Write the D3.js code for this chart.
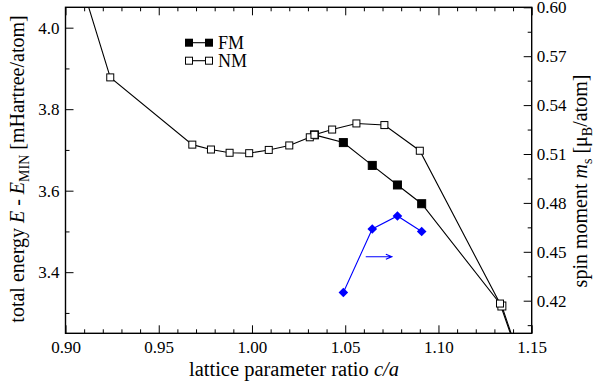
<!DOCTYPE html>
<html>
<head>
<meta charset="utf-8">
<script src="https://cdn.jsdelivr.net/npm/d3@7"></script>
<style>
  body { margin: 0; background: #fff; }
  svg { font-family: "Liberation Serif", "Times New Roman", serif; }
  .axis text { font-family: "Liberation Serif", "Times New Roman", serif; font-size: 17px; fill: #000; }
  .axis line { stroke: #000; stroke-width: 1; }
</style>
</head>
<body>
<script>
(function(){
// lattice parameter ratio c/a and total energy [mHartree/atom]
var nmRatio  = [0.900, 0.924, 0.968, 0.978, 0.988, 0.9985, 1.009, 1.020, 1.031, 1.0335, 1.043, 1.056, 1.071, 1.090, 1.133, 1.150];
var nmEnergy = [4.235, 3.878, 3.713, 3.701, 3.693, 3.692, 3.700, 3.711, 3.731, 3.737, 3.750, 3.765, 3.761, 3.698, 3.323, 3.100];
var fmRatio  = [1.0335, 1.049, 1.0645, 1.078, 1.091, 1.134, 1.150];
var fmEnergy = [3.737, 3.718, 3.662, 3.614, 3.568, 3.317, 3.100];
// spin moment of the FM state [muB/atom]
var momentRatio = [1.049, 1.0645, 1.078, 1.091];
var momentValue = [0.425, 0.464, 0.472, 0.4625];

var xTicks = [0.90, 0.95, 1.00, 1.05, 1.10, 1.15];
var eTicks = [3.4, 3.6, 3.8, 4.0];
var mTicks = [0.42, 0.45, 0.48, 0.51, 0.54, 0.57, 0.60];

var width = 595, height = 381;
var left = 65.5, right = 531.7, top = 7.3, bottom = 333.3;

var svg = d3.select("body").append("svg")
    .attr("width", width)
    .attr("height", height);

var x = d3.scaleLinear().domain([0.90, 1.15]).range([left, right]);
var yE = d3.scaleLinear().domain([3.25, 4.05]).range([bottom, top]);
var yM = d3.scaleLinear().domain([0.40, 0.60]).range([bottom, top]);

var xMinor = d3.range(0.90, 1.1501, 0.01).map(function(d) { return +d.toFixed(2); })
    .filter(function(d) { return xTicks.indexOf(d) < 0; });
var eMinor = [3.3, 3.5, 3.7, 3.9];
var mMinor = d3.range(0.405, 0.6, 0.03).map(function(d) { return +d.toFixed(3); });

function addAxis(axisFn, scale, ticks, minor, tx, ty, fmt, labels, pad) {
  var g = svg.append("g").attr("class", "axis")
      .attr("transform", "translate(" + tx + "," + ty + ")");
  g.call(axisFn(scale).tickValues(minor).tickSizeInner(-4).tickSizeOuter(0).tickFormat(""));
  g.select(".domain").remove();
  var g2 = svg.append("g").attr("class", "axis")
      .attr("transform", "translate(" + tx + "," + ty + ")");
  g2.call(axisFn(scale).tickValues(ticks).tickSizeInner(-8).tickSizeOuter(0)
      .tickPadding(pad).tickFormat(labels ? d3.format(fmt) : ""));
  g2.select(".domain").remove();
  g2.selectAll("text").style("font-family", "'Liberation Serif', 'Times New Roman', serif");
  return g2;
}

addAxis(d3.axisBottom, x, xTicks, xMinor, 0, bottom, ".2f", true, 8);
addAxis(d3.axisTop, x, xTicks, xMinor, 0, top, ".2f", false, 0);
addAxis(d3.axisLeft, yE, eTicks, eMinor, left, 0, ".1f", true, 6);
addAxis(d3.axisRight, yM, mTicks, mMinor, right, 0, ".2f", true, 6).selectAll("text").attr("dx", "-1");

svg.append("rect")
    .attr("x", left).attr("y", top)
    .attr("width", right - left).attr("height", bottom - top)
    .attr("fill", "none").attr("stroke", "#000").attr("stroke-width", 1.4);

svg.append("clipPath").attr("id", "plotclip")
  .append("rect").attr("x", left).attr("y", top)
    .attr("width", right - left).attr("height", bottom - top);

var plot = svg.append("g").attr("clip-path", "url(#plotclip)");

var nm = nmRatio.map(function(d, i) { return [d, nmEnergy[i]]; });
var fm = fmRatio.map(function(d, i) { return [d, fmEnergy[i]]; });
var mom = momentRatio.map(function(d, i) { return [d, momentValue[i]]; });

var lineE = d3.line().x(function(d) { return x(d[0]); }).y(function(d) { return yE(d[1]); });
var lineM = d3.line().x(function(d) { return x(d[0]); }).y(function(d) { return yM(d[1]); });

plot.append("path").datum(fm).attr("d", lineE)
    .attr("fill", "none").attr("stroke", "#000").attr("stroke-width", 1.1);
plot.append("path").datum(nm).attr("d", lineE)
    .attr("fill", "none").attr("stroke", "#000").attr("stroke-width", 1.1);

// FM points with a moment are filled, the rest collapse to NM
plot.selectAll(".fm").data(fm).enter().append("rect")
    .attr("class", "fm")
    .attr("x", function(d) { return x(d[0]) - 4; })
    .attr("y", function(d) { return yE(d[1]) - 4; })
    .attr("width", 8).attr("height", 8)
    .attr("fill", function(d) { return momentRatio.indexOf(d[0]) >= 0 ? "#000" : "#fff"; })
    .attr("stroke", "#000").attr("stroke-width", 1);

plot.selectAll(".nm").data(nm).enter().append("rect")
    .attr("class", "nm")
    .attr("x", function(d) { return x(d[0]) - 3.5; })
    .attr("y", function(d) { return yE(d[1]) - 3.5; })
    .attr("width", 7).attr("height", 7)
    .attr("fill", "#fff").attr("stroke", "#000").attr("stroke-width", 1);

plot.append("path").datum(mom).attr("d", lineM)
    .attr("fill", "none").attr("stroke", "#0000ff").attr("stroke-width", 1.1);
plot.selectAll(".mom").data(mom).enter().append("path")
    .attr("class", "mom")
    .attr("d", function(d) {
      var cx = x(d[0]), cy = yM(d[1]), r = 4.8;
      return "M" + cx + "," + (cy - r) + "L" + (cx + r) + "," + cy + "L" + cx + "," + (cy + r) + "L" + (cx - r) + "," + cy + "Z";
    })
    .attr("fill", "#0000ff");

// arrow pointing to the right axis
var arrowFrom = [1.061, 0.447], arrowTo = [1.075, 0.447];
var ax0 = x(arrowFrom[0]), ax1 = x(arrowTo[0]), ay = yM(arrowFrom[1]);
plot.append("path")
    .attr("d", "M" + ax0 + "," + ay + "H" + ax1 + "M" + (ax1 - 6) + "," + (ay - 2.5) + "L" + ax1 + "," + ay + "L" + (ax1 - 6) + "," + (ay + 2.5))
    .attr("fill", "none").attr("stroke", "#0000ff").attr("stroke-width", 1.1);

// legend
var legend = svg.append("g").attr("transform", "translate(189,42.7)");
legend.append("line").attr("x1", 0).attr("x2", 20).attr("y1", 0).attr("y2", 0).attr("stroke", "#000").attr("stroke-width", 1.1);
legend.selectAll(".lf").data([0, 20]).enter().append("rect")
    .attr("x", function(d) { return d - 4; }).attr("y", -4).attr("width", 8).attr("height", 8).attr("fill", "#000");
legend.append("text").attr("x", 29).attr("y", 6).attr("font-size", 18).text("FM");
legend.append("line").attr("x1", 0).attr("x2", 20).attr("y1", 18).attr("y2", 18).attr("stroke", "#000").attr("stroke-width", 1.1);
legend.selectAll(".ln").data([0, 20]).enter().append("rect")
    .attr("x", function(d) { return d - 3.5; }).attr("y", 14.5).attr("width", 7).attr("height", 7)
    .attr("fill", "#fff").attr("stroke", "#000").attr("stroke-width", 1);
legend.append("text").attr("x", 29).attr("y", 24).attr("font-size", 18).text("NM");

// axis titles
var xt = svg.append("text").attr("x", 294).attr("y", 376).attr("text-anchor", "middle").attr("font-size", 20.5);
xt.append("tspan").text("lattice parameter ratio ");
xt.append("tspan").attr("font-style", "italic").text("c/a");

var lt = svg.append("text").attr("text-anchor", "middle").attr("font-size", 20)
    .attr("transform", "translate(24,169) rotate(-90)");
lt.append("tspan").text("total energy ");
lt.append("tspan").attr("font-style", "italic").text("E");
lt.append("tspan").text(" - ");
lt.append("tspan").attr("font-style", "italic").text("E");
lt.append("tspan").attr("font-size", 14).attr("dy", 5).text("MIN");
lt.append("tspan").attr("dy", -5).text(" [mHartree/atom]");

var rt = svg.append("text").attr("text-anchor", "middle").attr("font-size", 20)
    .attr("transform", "translate(587,181) rotate(-90)");
rt.append("tspan").text("spin moment ");
rt.append("tspan").attr("font-style", "italic").text("m");
rt.append("tspan").attr("font-size", 14).attr("dy", 5).text("s");
rt.append("tspan").attr("dy", -5).text(" [\u03bc");
rt.append("tspan").attr("font-size", 14).attr("dy", 5).text("B");
rt.append("tspan").attr("dy", -5).text("/atom]");
})();
</script>
</body>
</html>
